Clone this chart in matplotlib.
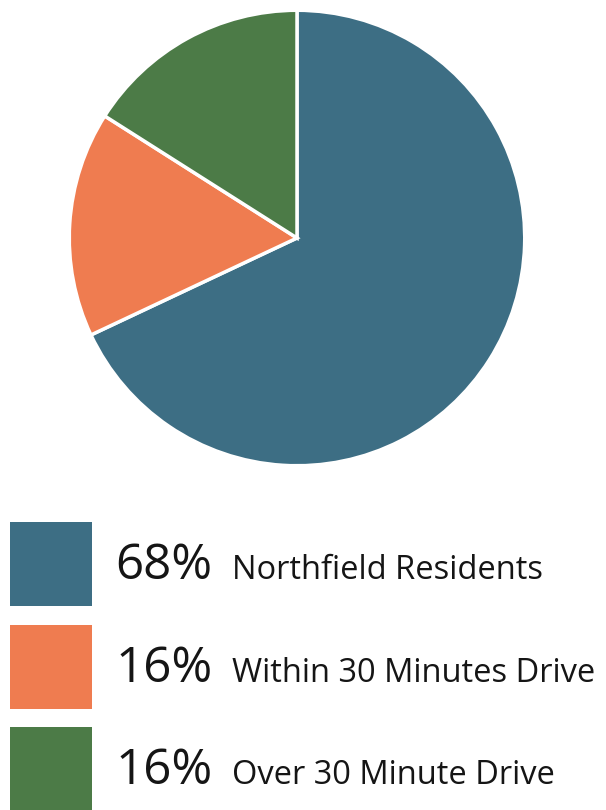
import matplotlib.pyplot as plt
from matplotlib.patches import Rectangle

# Visitor origin shares
labels = ['Northfield Residents', 'Within 30 Minutes Drive', 'Over 30 Minute Drive']
shares = [68, 16, 16]
colors = ['#3d6e84', '#ef7c50', '#4c7b47']

W, H = 606, 810
fig = plt.figure(figsize=(W / 100, H / 100), dpi=100)

# pie: centre (297, 238) px, radius 230 px
cx, cy, r = 297, 238, 230
ax = fig.add_axes([(cx - r) / W, (H - cy - r) / H, 2 * r / W, 2 * r / H])
ax.pie(shares, colors=colors, startangle=90, counterclock=False, radius=1,
       wedgeprops={'edgecolor': 'white', 'linewidth': 2.5})
ax.set_xlim(-1.01, 1.01)
ax.set_ylim(-1.01, 1.01)
ax.set_aspect('equal')
ax.axis('off')

# legend rows
row_top = [522, 625, 727]
for top, lab, pct, col in zip(row_top, labels, shares, colors):
    fig.patches.append(Rectangle((10 / W, (H - top - 84) / H), 82 / W, 84 / H,
                                 transform=fig.transFigure, facecolor=col,
                                 edgecolor='none'))
    base = top + 57
    fig.text(115 / W, (H - base) / H, f'{pct}%', fontsize=35.5,
             family='Open Sans', color='#151515', va='baseline')
    fig.text(232 / W, (H - base) / H, lab, fontsize=23.5,
             family='Open Sans', color='#151515', va='baseline')

fig.savefig('out.png', dpi=100)
